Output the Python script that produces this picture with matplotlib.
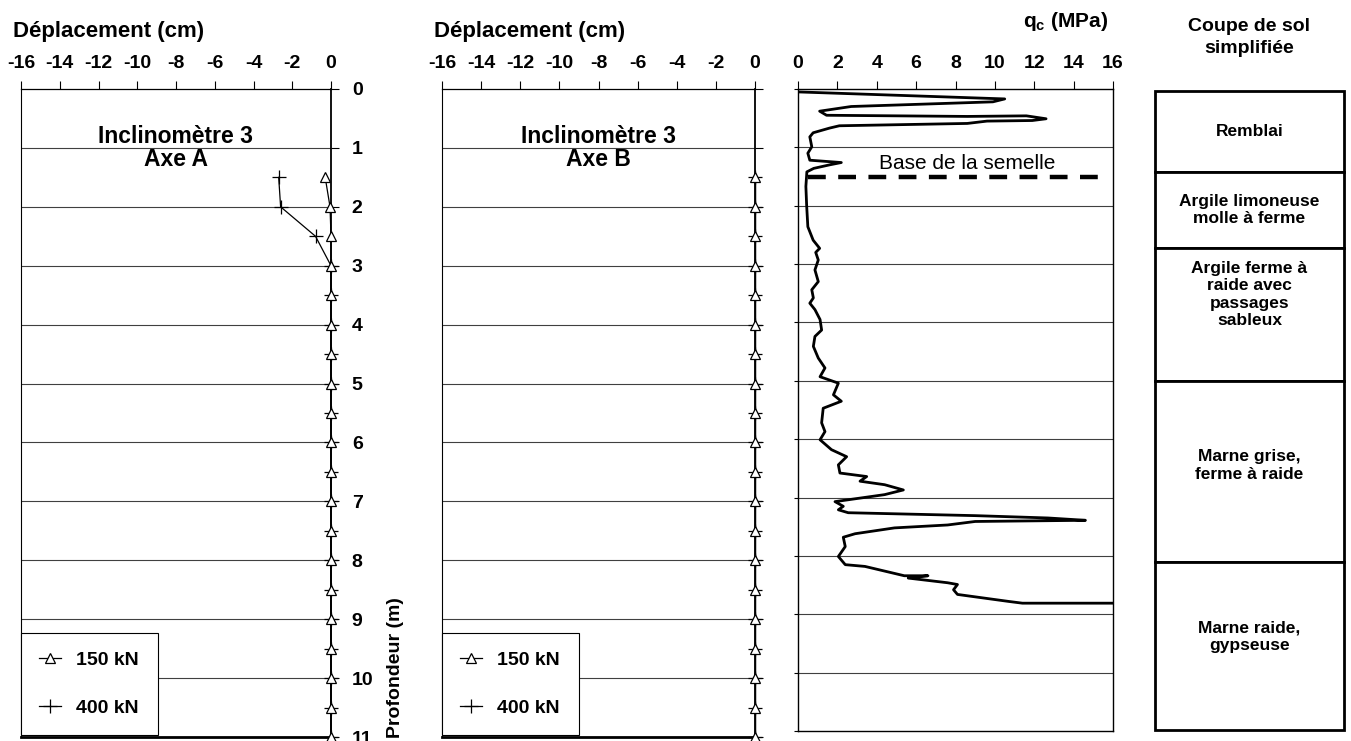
import matplotlib
matplotlib.use("Agg")
import matplotlib.pyplot as plt
from matplotlib.patches import Rectangle

plt.rcParams['font.family'] = ['Liberation Sans', 'DejaVu Sans']

# ---------------- data ----------------
disp_ticks = [-16, -14, -12, -10, -8, -6, -4, -2, 0]
depth_ticks = [0, 1, 2, 3, 4, 5, 6, 7, 8, 9, 10, 11]
qc_ticks = [0, 2, 4, 6, 8, 10, 12, 14, 16]

incl_depth = [1.5, 2.0, 2.5, 3.0, 3.5, 4.0, 4.5, 5.0, 5.5, 6.0,
              6.5, 7.0, 7.5, 8.0, 8.5, 9.0, 9.5, 10.0, 10.5, 11.0]
axeA_150 = [-0.3, -0.05, 0.0, 0.0, 0.0, 0.0, 0.0, 0.0, 0.0, 0.0,
            0.0, 0.0, 0.0, 0.0, 0.0, 0.0, 0.0, 0.0, 0.0, 0.0]
axeA_400 = [-2.7, -2.6, -0.8, 0.0, 0.0, 0.0, 0.0, 0.0, 0.0, 0.0,
            0.0, 0.0, 0.0, 0.0, 0.0, 0.0, 0.0, 0.0, 0.0, 0.0]
axeB_150 = [0.0] * 20
axeB_400 = [0.0] * 20

qc_depth = [0.05, 0.17, 0.22, 0.30, 0.38, 0.45, 0.47, 0.46, 0.51, 0.54, 0.55, 0.59,
            0.63, 0.67, 0.75, 0.82, 0.99, 1.10, 1.22, 1.26, 1.30, 1.36, 1.42, 1.67,
            2.00, 2.36, 2.59, 2.73, 2.80, 2.93, 3.10, 3.30, 3.44, 3.58, 3.67, 3.78,
            3.95, 4.13, 4.24, 4.41, 4.61, 4.78, 4.93, 5.04, 5.24, 5.35, 5.47, 5.72,
            5.87, 6.01, 6.18, 6.30, 6.44, 6.58, 6.64, 6.72, 6.78, 6.87, 6.95, 7.07,
            7.15, 7.21, 7.26, 7.31, 7.35, 7.39, 7.41, 7.47, 7.52, 7.62, 7.68, 7.84,
            8.01, 8.15, 8.18, 8.34, 8.34, 8.38, 8.46, 8.49, 8.58, 8.66, 8.78, 8.81,
            8.81]
qc_value = [0.0, 10.5, 9.9, 2.7, 1.1, 1.45, 8.6, 11.6, 12.6, 11.9, 9.6, 8.6,
            2.1, 1.6, 0.77, 0.6, 0.7, 0.5, 0.6, 2.2, 1.6, 0.8, 0.45, 0.4,
            0.44, 0.5, 0.77, 1.1, 0.9, 1.03, 0.86, 1.03, 0.7, 0.78, 0.6, 0.86,
            1.12, 1.2, 0.86, 0.78, 1.03, 1.37, 1.12, 2.05, 1.8, 2.2, 1.28, 1.2,
            1.37, 1.12, 1.7, 2.47, 2.05, 2.13, 3.49, 3.15, 4.4, 5.35, 4.4, 1.88,
            2.3, 2.05, 2.55, 9.0, 12.7, 14.6, 9.0, 7.6, 4.9, 2.9, 2.3, 2.4,
            2.05, 2.4, 3.4, 5.4, 6.6, 5.6, 7.6, 8.1, 7.9, 8.1, 10.7, 11.4,
            16.0]

semelle_depth = 1.5
semelle_qc = [0.5, 15.7]

soil_names = ["Remblai", "Argile limoneuse\nmolle à ferme",
              "Argile ferme à\nraide avec\npassages\nsableux",
              "Marne grise,\nferme à raide", "Marne raide,\ngypseuse"]
soil_top = [0.0, 1.4, 2.7, 5.0, 8.1]
soil_bottom = [1.4, 2.7, 5.0, 8.1, 11.0]
soil_label_depth = [0.7, 2.05, 3.5, 6.45, 9.4]

# ---------------- figure ----------------
W, H = 1351, 741
fig = plt.figure(figsize=(W / 100, H / 100), dpi=100)
fig.patch.set_facecolor('white')


def frac(x0, y0, x1, y1):
    return [x0 / W, 1 - y1 / H, (x1 - x0) / W, (y1 - y0) / H]


TICK_FS = 14
GRID_C = '#404040'


def incl_panel(rect, s150, s400, axe_label, show_ylabels):
    ax = fig.add_axes(rect)
    ax.set_xlim(-16, 0)
    ax.set_ylim(11, 0)
    for d in depth_ticks[1:-1]:
        ax.axhline(d, color=GRID_C, lw=0.8, zorder=0)
    ax.plot(s150, incl_depth, color='black', lw=0.9, marker='^', ms=7,
            mfc='white', mec='black', mew=0.9, label='150 kN', zorder=4,
            clip_on=False)
    ax.plot(s400, incl_depth, color='black', lw=0.9, marker='+', ms=10,
            mew=0.9, label='400 kN', zorder=3, clip_on=False)
    ax.xaxis.tick_top()
    ax.set_xticks(disp_ticks)
    ax.set_xticklabels([str(v) for v in disp_ticks], fontsize=TICK_FS,
                       fontweight='bold')
    ax.tick_params(axis='x', direction='out', length=6, width=0.8, pad=6)
    ax.yaxis.tick_right()
    ax.set_yticks(depth_ticks)
    if show_ylabels:
        ax.set_yticklabels([str(v) for v in depth_ticks], fontsize=TICK_FS,
                           fontweight='bold')
    else:
        ax.set_yticklabels([])
    ax.tick_params(axis='y', direction='out', length=6, width=0.8, pad=9)
    ax.spines['left'].set_linewidth(0.8)
    ax.spines['right'].set_linewidth(1.3)
    ax.spines['top'].set_linewidth(0.9)
    ax.spines['bottom'].set_linewidth(2.0)
    ax.text(-8, 0.8, "Inclinomètre 3", ha='center', va='center',
            fontsize=16.5, fontweight='bold')
    ax.text(-8, 1.2, axe_label, ha='center', va='center',
            fontsize=16.5, fontweight='bold')
    leg = ax.legend(loc='lower left', bbox_to_anchor=(0.0, 0.003),
                    borderaxespad=0, frameon=True, fancybox=False,
                    edgecolor='black', framealpha=1, handlelength=1.1,
                    handletextpad=0.8, labelspacing=1.55, borderpad=0.95,
                    prop={'size': 14, 'weight': 'bold'}, numpoints=1)
    leg.get_frame().set_linewidth(0.8)
    leg.set_zorder(5)
    return ax


ax1 = incl_panel(frac(21, 89, 331, 737), axeA_150, axeA_400, "Axe A", True)
ax2 = incl_panel(frac(442, 89, 755, 737), axeB_150, axeB_400, "Axe B", False)

# qc panel
ax3 = fig.add_axes(frac(798, 89, 1113, 731))
ax3.set_xlim(0, 16)
ax3.set_ylim(11, 0)
for d in depth_ticks[1:-1]:
    ax3.axhline(d, color=GRID_C, lw=0.8, zorder=0)
ax3.plot(qc_value, qc_depth, color='black', lw=2.0, solid_joinstyle='round')
ax3.plot(semelle_qc, [semelle_depth, semelle_depth], color='black', lw=3.2,
         linestyle=(0, (4, 2.8)))
ax3.text(8.6, 1.27, "Base de la semelle", ha='center', va='center',
         fontsize=15)
ax3.xaxis.tick_top()
ax3.set_xticks(qc_ticks)
ax3.set_xticklabels([str(v) for v in qc_ticks], fontsize=TICK_FS,
                    fontweight='bold')
ax3.tick_params(axis='x', direction='out', length=6, width=0.8, pad=6)
ax3.set_yticks(depth_ticks)
ax3.set_yticklabels([])
ax3.tick_params(axis='y', direction='out', length=3, width=0.8)
for s in ax3.spines.values():
    s.set_linewidth(1.0)

# soil column
ax4 = fig.add_axes(frac(1155, 91, 1344, 730))
ax4.set_xlim(0, 1)
ax4.set_ylim(11, 0)
ax4.axis('off')
for name, top, bot, yl in zip(soil_names, soil_top, soil_bottom, soil_label_depth):
    ax4.add_patch(Rectangle((0, top), 1, bot - top, facecolor='white',
                            edgecolor='black', lw=2.0, clip_on=False))
    ax4.text(0.5, yl, name, ha='center', va='center', fontsize=12.5,
             fontweight='bold', linespacing=1.2)

# titles
fig.text(13 / W, 1 - 37 / H, "Déplacement (cm)", ha='left', va='baseline',
         fontsize=16, fontweight='bold')
fig.text(434 / W, 1 - 37 / H, "Déplacement (cm)", ha='left', va='baseline',
         fontsize=16, fontweight='bold')
fig.text(1108 / W, 1 - 27 / H, r"q$_\mathregular{c}$ (MPa)", ha='right',
         va='baseline', fontsize=15, fontweight='bold')
fig.text(1249 / W, 1 - 31 / H, "Coupe de sol", ha='center',
         va='baseline', fontsize=14, fontweight='bold')
fig.text(1249 / W, 1 - 53 / H, "simplifiée", ha='center',
         va='baseline', fontsize=14, fontweight='bold')
fig.text(395 / W, 1 - 668 / H, "Profondeur (m)", rotation=90, ha='center',
         va='center', fontsize=14, fontweight='bold')

fig.savefig("out.png", dpi=100)
